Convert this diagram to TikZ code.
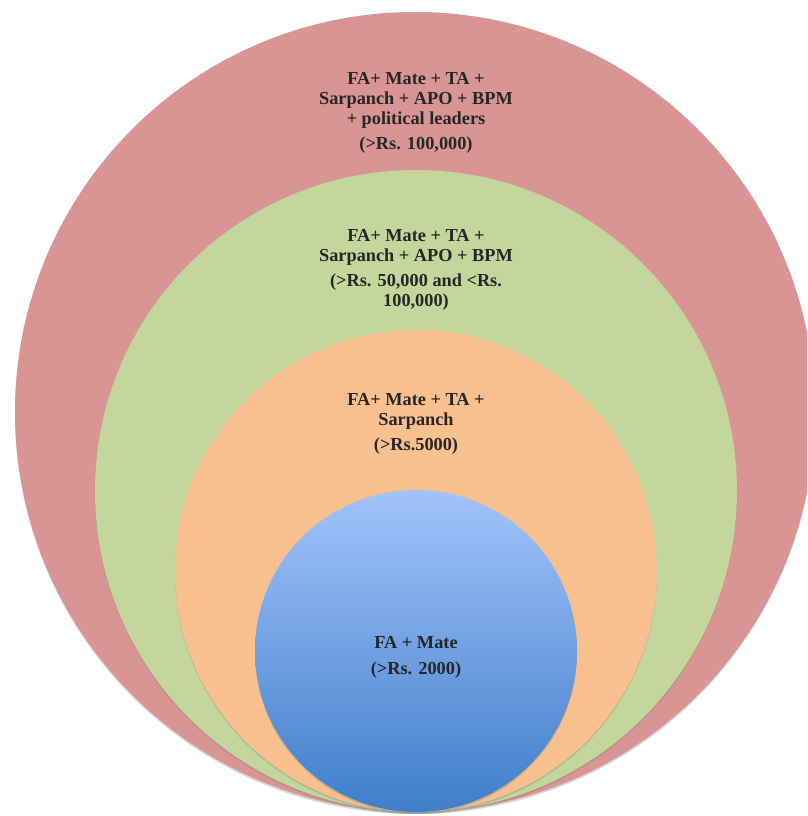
\documentclass[tikz,border=0pt]{standalone}
\usepackage{fontspec}
\setmainfont{Liberation Serif}
\usetikzlibrary{shadows}
\definecolor{ringred}{HTML}{D99594}
\definecolor{ringgreen}{HTML}{C3D69B}
\definecolor{ringorange}{HTML}{F8BF8F}
\definecolor{coretop}{HTML}{A2C3FB}
\definecolor{corebot}{HTML}{3F7ECA}
\begin{document}
\begin{tikzpicture}[x=1pt, y=-1pt,
	ring/.style={circle, inner sep=0pt, draw=none, drop shadow={opacity=0.3, shadow xshift=0pt, shadow yshift=-2pt}},
	every node/.style={align=center},
	label text/.style={font=\bfseries\fontsize{18.3}{19.8}\selectfont, text=black!85}]
		\useasboundingbox (0,0) rectangle (807,816);
		\clip (0,0) rectangle (807,816);

		% Rings
		\node[ring, fill=ringred, minimum size=800pt] (outer) at (415,412) {};
		\node[ring, fill=ringgreen, minimum size=642pt] (middle) at (416,491) {};
		\node[ring, fill=ringorange, minimum size=482pt] (inner) at (416,571) {};
		\node[ring, top color=coretop, bottom color=corebot, minimum size=322pt] (core) at (416,651) {};

		% Labels
		\node[label text] (outertext) at (416,113) {FA+ Mate + TA +\\Sarpanch + APO + BPM\\+ political leaders\\[5pt](>Rs. 100,000)};
		\node[label text] (middletext) at (416,270) {FA+ Mate + TA +\\Sarpanch + APO + BPM\\[6pt](>Rs. 50,000 and <Rs.\\100,000)};
		\node[label text] (innertext) at (416,424) {FA+ Mate + TA +\\Sarpanch\\[6pt](>Rs.5000)};
		\node[label text] (coretext) at (416,657) {FA + Mate\\[6pt](>Rs. 2000)};
	\end{tikzpicture}
\end{document}
